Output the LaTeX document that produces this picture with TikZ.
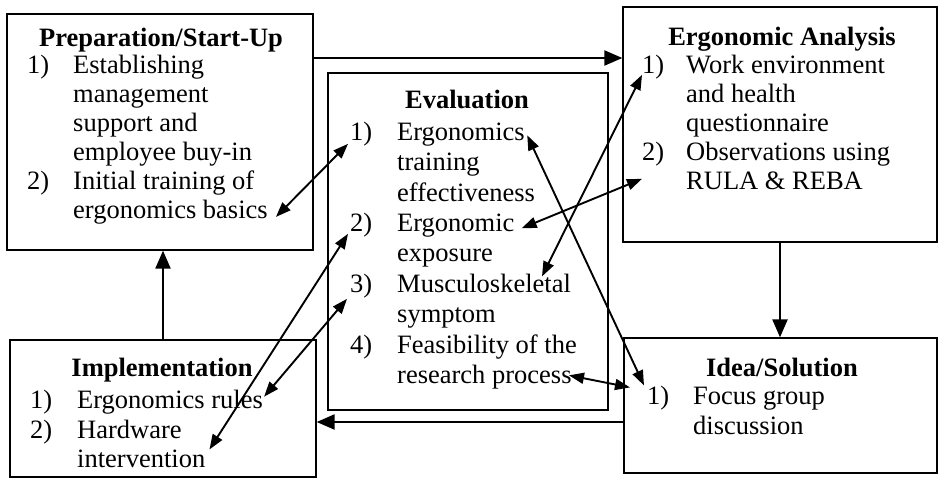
\documentclass[tikz,border=0pt]{standalone}
\usepackage{fontspec}
\setmainfont{Liberation Serif}
\usepackage{tikz}
\usetikzlibrary{calc,positioning,shapes}
\usetikzlibrary{arrows.meta}
\tikzset{>={Triangle[width=11pt,length=15pt]}}

\begin{document}
\begin{tikzpicture}[x=1pt,y=-1pt]
          \tikzstyle{bnode} = [draw, line width=1.3pt, inner sep=0pt]
          \tikzstyle{tnode} = [inner sep=0pt, anchor=base, font=\fontsize{26.5}{29}\selectfont\bfseries]
          \tikzstyle{nnode} = [inner sep=0pt, anchor=base west, font=\fontsize{26.5}{29}\selectfont]
          \tikzstyle{inode} = [inner sep=0pt, anchor=base west, align=left, font=\fontsize{26.5}{29}\selectfont]
          \tikzstyle{enode} = [inode, font=\fontsize{26.5}{30.5}\selectfont]
          \tikzstyle{flow} = [-{Triangle[width=15pt,length=18pt]}, line width=2.2pt]
          \tikzstyle{link} = [<->, line width=1.9pt]
          \useasboundingbox (0,0) rectangle (940,479);

          % boxes
          \node[bnode, minimum width=306pt, minimum height=236pt] (prep) at (160,132) {};
          \node[bnode, minimum width=280pt, minimum height=337pt] (eval) at (468,241.5) {};
          \node[bnode, minimum width=314pt, minimum height=235pt] (ana) at (780,124.5) {};
          \node[bnode, minimum width=313pt, minimum height=135pt] (idea) at (780.5,405.5) {};
          \node[bnode, minimum width=306pt, minimum height=137pt] (impl) at (163,408.5) {};

          % Preparation/Start-Up (items sit on their last line)
          \node[tnode] (prept) at (161,46) {Preparation/Start-Up};
          \node[nnode] (prep1n) at (27,73) {1)};
          \node[inode] (prep1) at (73,160) {Establishing\\management\\support and\\employee buy-in};
          \node[nnode] (prep2n) at (27,189) {2)};
          \node[inode] (prep2) at (73,218) {Initial training of\\ergonomics basics};

          % Evaluation
          \node[tnode] (evalt) at (467,108) {Evaluation};
          \node[nnode] (eval1n) at (350,140) {1)};
          \node[enode] (eval1) at (397,201) {Ergonomics\\training\\effectiveness};
          \node[nnode] (eval2n) at (350,231) {2)};
          \node[enode] (eval2) at (397,261.5) {Ergonomic\\exposure};
          \node[nnode] (eval3n) at (350,292) {3)};
          \node[enode] (eval3) at (397,322.5) {Musculoskeletal\\symptom};
          \node[nnode] (eval4n) at (350,353) {4)};
          \node[enode] (eval4) at (397,383.5) {Feasibility of the\\research process};

          % Ergonomic Analysis
          \node[tnode] (anat) at (782,45) {Ergonomic Analysis};
          \node[nnode] (ana1n) at (642,73) {1)};
          \node[inode] (ana1) at (686,131) {Work environment\\and health\\questionnaire};
          \node[nnode] (ana2n) at (642,160) {2)};
          \node[inode] (ana2) at (686,189) {Observations using\\RULA \& REBA};

          % Idea/Solution
          \node[tnode] (ideat) at (782,376) {Idea/Solution};
          \node[nnode] (idea1n) at (647,404) {1)};
          \node[enode] (idea1) at (693,434.5) {Focus group\\discussion};

          % Implementation
          \node[tnode] (implt) at (162,376) {Implementation};
          \node[nnode] (impl1n) at (30,408) {1)};
          \node[inode] (impl1) at (77,408) {Ergonomics rules};
          \node[nnode] (impl2n) at (30,438) {2)};
          \node[inode] (impl2) at (77,467) {Hardware\\intervention};

          % cycle
          \draw[flow] ([yshift=74pt]prep.east) -- ([yshift=74pt]prep.east -| ana.west);
          \draw[flow] (ana.south) -- (ana.south |- idea.north);
          \draw[flow] ([yshift=-16.5pt]idea.west) -- ([yshift=-16.5pt]idea.west -| impl.east);
          \draw[flow] (impl.north) -- (impl.north |- prep.south);

          % evaluation links
          \draw[link] ($(prep2.south east)+(8,-7)$) -- ($(eval1n.south west)+(-2,-2)$);
          \draw[link] ($(impl2.south east)+(4,-18)$) -- ($(eval2n.south west)+(-2,-3)$);
          \draw[link] ($(eval1.north east)+(-8,13)$) -- ($(idea1n.north west)+(-3,0)$);
          \draw[link] ($(ana1n.south west)+(0,-4)$) -- ($(eval3.north west)+(145,3)$);
          \draw[link] ($(ana2n.south west)+(0,13)$) -- ($(eval2.north east)+(7,15)$);
          \draw[link] ($(eval3n.south west)+(-3,1)$) -- ($(impl1.east)+(1,-5)$);
          \draw[link] ($(eval4.south east)+(-8,-14)$) -- ($(idea1n.north west)+(-17,2)$);
        \end{tikzpicture}
\end{document}
